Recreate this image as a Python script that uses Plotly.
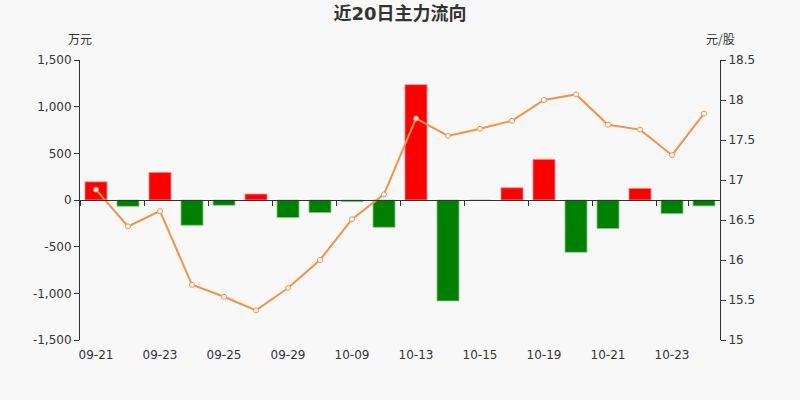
import plotly.graph_objects as go

dates = ["09-21", "09-22", "09-23", "09-24", "09-25", "09-28", "09-29", "09-30", "10-09", "10-12",
         "10-13", "10-14", "10-15", "10-16", "10-19", "10-20", "10-21", "10-22", "10-23", "10-26"]
net_flow = [195, -68, 296, -271, -57, 64, -189, -136, -18, -293,
            1236, -1082, -5, 132, 436, -561, -307, 125, -147, -64]
price = [16.88, 16.42, 16.61, 15.69, 15.54, 15.37, 15.65, 16.00, 16.51, 16.82,
         17.77, 17.55, 17.64, 17.74, 18.00, 18.07, 17.69, 17.63, 17.31, 17.83]
label_dates = dates[::2]

bar_colors = ["#ff0000" if v >= 0 else "#008000" for v in net_flow]
bar_lines = ["rgba(255,150,150,0.8)" if v >= 0 else "rgba(150,210,150,0.8)" for v in net_flow]

fig = go.Figure()
fig.add_trace(go.Bar(x=dates, y=net_flow, marker=dict(color=bar_colors, line=dict(color=bar_lines, width=1)),
                     width=0.69, xaxis="x", yaxis="y", showlegend=False, hoverinfo="x+y"))
fig.add_trace(go.Scatter(x=dates, y=price, mode="lines+markers", xaxis="x", yaxis="y2",
                         line=dict(color="#f5924a", width=2),
                         marker=dict(size=5, color="white", line=dict(color="#f5924a", width=1)),
                         showlegend=False))
# invisible trace for the zero-positioned axis with ticks
fig.add_trace(go.Scatter(x=dates, y=[None] * len(dates), xaxis="x2", yaxis="y", mode="markers",
                         showlegend=False, hoverinfo="skip"))

axis_font = dict(family="DejaVu Sans, Noto Sans CJK SC", size=12, color="#333")

fig.update_layout(
    width=800, height=400,
    paper_bgcolor="#f8f8f8", plot_bgcolor="#f8f8f8",
    margin=dict(l=80, r=80, t=60, b=60),
    title=dict(text="<b>近20日主力流向</b>", x=0.5, xanchor="center", y=0.965, yanchor="middle",
               font=dict(family="DejaVu Sans, Noto Sans CJK SC", size=18, color="#333")),
    font=axis_font,
    bargap=0.3,
    xaxis=dict(type="category", categoryorder="array", categoryarray=dates,
               range=[-0.5, len(dates) - 0.5],
               tickmode="array", tickvals=label_dates, ticktext=label_dates,
               showline=False, ticks="", showgrid=False, zeroline=False,
               ticklabelstandoff=6, tickfont=axis_font),
    xaxis2=dict(type="category", categoryorder="array", categoryarray=dates,
                range=[-0.5, len(dates) - 0.5], overlaying="x", anchor="free", position=0.5,
                tickmode="array", tickvals=label_dates, tickson="boundaries",
                showticklabels=False, ticks="outside", ticklen=5, tickcolor="#333",
                showline=True, linecolor="#333", linewidth=1, showgrid=False, zeroline=False),
    yaxis=dict(range=[-1500, 1500], tickvals=[-1500, -1000, -500, 0, 500, 1000, 1500],
               ticktext=["-1,500", "-1,000", "-500", "0", "500", "1,000", "1,500"],
               showline=True, linecolor="#333", ticks="outside", ticklen=5, tickcolor="#333",
               showgrid=False, zeroline=False, tickfont=axis_font),
    yaxis2=dict(range=[15, 18.5], tickvals=[15, 15.5, 16, 16.5, 17, 17.5, 18, 18.5],
                ticktext=["15", "15.5", "16", "16.5", "17", "17.5", "18", "18.5"],
                overlaying="y", side="right", anchor="x",
                showline=True, linecolor="#333", ticks="outside", ticklen=5, tickcolor="#333",
                showgrid=False, zeroline=False, tickfont=axis_font),
    annotations=[
        dict(text="万元", xref="paper", yref="paper", x=0.0, y=1.0, yshift=22, showarrow=False,
             xanchor="center", yanchor="middle", font=dict(family="Noto Sans CJK SC", size=12, color="#333")),
        dict(text="元/股", xref="paper", yref="paper", x=1.0, y=1.0, yshift=22, showarrow=False,
             xanchor="center", yanchor="middle", font=dict(family="Noto Sans CJK SC", size=12, color="#333")),
    ],
)

fig.write_html("out.html", config={"displayModeBar": False},
               post_script="document.body.style.margin='0';document.body.style.background='#f8f8f8';")
